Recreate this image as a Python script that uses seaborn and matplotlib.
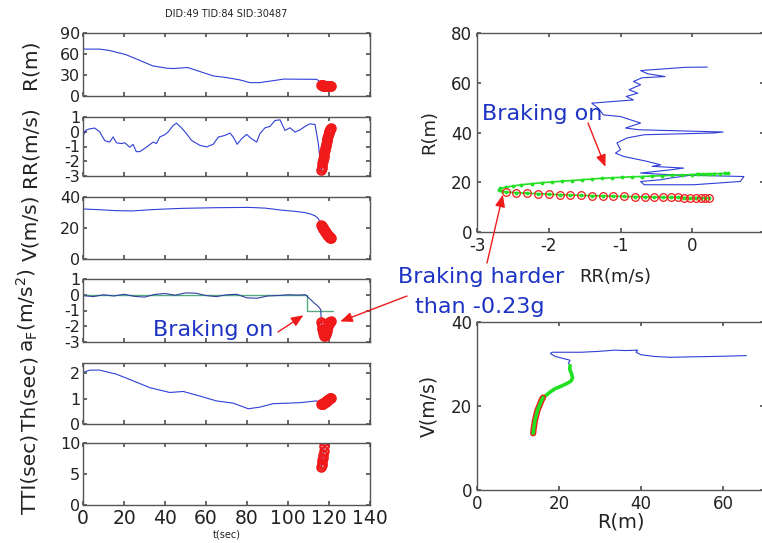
import numpy as np
import matplotlib
matplotlib.use("Agg")
import matplotlib.pyplot as plt
import seaborn as sns

# ---------------- data ----------------
# R(m) vs t(sec), blue line up to the hard-braking part
t_r = [0, 8, 13, 21, 28, 34, 41, 44, 51, 57, 63.5, 70, 76.5, 81.5, 86, 93, 98, 105, 114, 115.6]
r_t = [67, 67, 65, 59, 50.5, 43, 39.7, 39.2, 40.7, 35, 28.7, 26.3, 23, 19.1, 19.1, 22, 24.2, 24, 23.8, 20.5]

# RR(m/s) vs t(sec)
t_rr = [0, 1.3, 3.3, 5.7, 8.1, 10.6, 13, 14.7, 16.3, 18.7, 20.4, 22.8, 24.4, 26, 27.7,
        30.9, 34.2, 35.8, 37.5, 39.9, 41.5, 44, 45.6, 48, 50.5, 52.9, 57, 60.3, 63.5, 66,
        69.2, 71.7, 73.3, 75.2, 77.4, 79.8, 82.2, 84.7, 86.3, 88.8, 91.2, 93.6, 96.1, 98.5,
        101, 103.4, 105.9, 108.3, 110.7, 113.2, 114.8, 116.0]
rr_t = [-0.3, 0.1, 0.2, 0.25, 0.0, -0.6, -0.7, -0.35, -0.75, -0.8, -0.75, -1.05, -0.85, -1.35, -1.35,
        -1.05, -0.7, -0.8, -0.35, -0.2, -0.02, 0.43, 0.58, 0.27, -0.13, -0.58, -0.92, -1.03, -0.85, -0.36,
        -0.25, -0.09, -0.36, -0.85, -0.47, -0.18, -0.47, -0.7, -0.13, 0.27, 0.36, 0.76, 0.81, 0.09,
        0.27, -0.02, 0.13, 0.36, 0.54, 0.49, -0.8, -2.4]

# V(m/s) vs t(sec)
t_v = [0, 8, 16, 24, 33, 41, 49, 57, 65, 73, 81, 89, 97, 103, 108, 111, 113, 114.5, 115.5]
v_t = [32.3, 31.8, 31.2, 31.0, 31.8, 32.3, 32.7, 32.9, 33.1, 33.2, 33.3, 32.8, 31.5, 30.8, 30.0,
       29.0, 28.0, 26.5, 24.5]

# aF(m/s^2) vs t(sec), plus the braking flag (green step)
t_af = [0, 5, 10, 15, 20, 25, 30, 35, 40, 45, 50, 55, 60, 65, 70, 75, 80, 85, 90, 95, 100, 105,
        108.5, 111, 113, 114.5, 116]
af_t = [-0.05, -0.12, 0.0, -0.08, 0.03, -0.1, -0.15, 0.02, 0.08, -0.03, 0.12, 0.1, -0.05, -0.12,
        0.0, 0.03, -0.2, -0.22, -0.08, -0.05, 0.0, -0.02, 0.0, -0.3, -0.55, -0.7, -0.95]
t_flag = [0, 109.2, 121.8]
flag = [0, -1.0, -1.0]

# Th(sec) vs t(sec)
t_th = [0, 3.3, 8.1, 16.3, 24.4, 32.6, 42.3, 48.9, 57, 65, 73.3, 80.6, 86, 92.8, 100, 106, 114, 115.6]
th_t = [2.03, 2.12, 2.12, 1.96, 1.7, 1.43, 1.24, 1.28, 1.1, 0.91, 0.82, 0.6, 0.66, 0.8, 0.82, 0.84,
        0.91, 0.8]

# TTI(sec) vs t(sec), blue part just before the red points
t_tti = [115.6, 115.9, 116.2]
tti_t = [14.0, 9.0, 6.2]

# hard braking (red points), same times for every quantity
t_hard = [116.2, 116.4, 116.6, 116.8, 117.0, 117.2, 117.4, 117.6, 117.8, 118.0, 118.2, 118.4,
          118.6, 118.8, 119.0, 119.2, 119.4, 119.6, 119.8, 120.0, 120.2, 120.4, 120.6, 120.8]
r_hard = [16.1, 15.8, 15.6, 15.4, 15.2, 15.0, 14.85, 14.7, 14.6, 14.5, 14.4, 14.3, 14.2, 14.1,
          14.05, 14.0, 13.95, 13.9, 13.85, 13.8, 13.78, 13.75, 13.72, 13.7]
rr_hard = [-2.6, -2.45, -2.3, -2.15, -2.0, -1.85, -1.7, -1.55, -1.4, -1.25, -1.1, -0.95, -0.8,
           -0.66, -0.53, -0.41, -0.3, -0.2, -0.11, -0.03, 0.05, 0.12, 0.18, 0.23]
v_hard = [22.0, 21.5, 21.0, 20.5, 20.0, 19.6, 19.2, 18.8, 18.4, 18.0, 17.6, 17.2, 16.8, 16.4,
          16.0, 15.7, 15.4, 15.1, 14.8, 14.5, 14.2, 13.9, 13.7, 13.5]
af_hard = [-1.7, -1.85, -2.0, -2.15, -2.3, -2.4, -2.5, -2.55, -2.6, -2.6, -2.55, -2.5, -2.4, -2.3,
           -2.2, -2.1, -2.0, -1.9, -1.85, -1.8, -1.75, -1.7, -1.7, -1.65]
th_hard = [0.78, 0.78, 0.78, 0.79, 0.8, 0.81, 0.81, 0.82, 0.83, 0.85, 0.86, 0.87, 0.89, 0.9,
           0.92, 0.93, 0.94, 0.96, 0.98, 0.99, 1.0, 1.02, 1.03, 1.04]
tti_hard = [6.2, 6.45, 6.8, 7.2, 7.6, 8.1, 8.7, 9.5, 10.4]

# R vs RR phase plot: blue (before braking) and green (braking on)
ph_rr = [0.21, -0.1, -0.72, -0.62, -0.38, -0.7, -0.82, -0.72, -0.88, -0.76, -0.92, -0.82, -1.4,
         -1.3, -1.24, -1.0, -0.72, -0.93, -0.74, 0.43, 0.3, -0.67, -0.91, -1.05, -1.0, -1.07, -0.96,
         -0.63, -0.44, -0.56, -0.12, -0.3, -0.72, -0.3, 0.72, 0.67, 0.02, -0.67, -0.72, -0.44, -0.3,
         0.12]
ph_r = [66.3, 66.2, 64.9, 63.6, 62.5, 62.0, 60.5, 59.2, 57.2, 55.8, 54.5, 53.1, 51.8, 49.5, 47.1,
        46.4, 43.8, 41.8, 41.1, 40.2, 39.8, 39.1, 37.8, 35.8, 33.1, 31.7, 30.4, 28.4, 27.0, 26.4,
        25.7, 25.0, 23.7, 23.0, 22.3, 20.3, 19.0, 19.0, 20.3, 21.0, 21.7, 23.4]
on_rr = [0.5, 0.45, 0.38, 0.3, 0.25, 0.2, 0.15, 0.1, 0.07, 0.0, -0.14, -0.28, -0.42, -0.56, -0.7,
         -0.84, -0.98, -1.12, -1.26, -1.4, -1.54, -1.68, -1.82, -1.96, -2.1, -2.24, -2.38, -2.5,
         -2.6, -2.68, -2.7, -2.65]
on_r = [23.6, 23.6, 23.5, 23.5, 23.4, 23.4, 23.3, 23.3, 23.2, 23.1, 22.9, 22.8, 22.6, 22.5, 22.3,
        22.2, 22.0, 21.8, 21.6, 21.3, 21.0, 20.7, 20.4, 20.1, 19.8, 19.4, 19.0, 18.5, 18.0, 17.5,
        17.0, 16.5]

# V vs R plot: blue (before braking) and green (braking on)
vr_r = [65.7, 58, 52, 47, 43.2, 40.0, 38.8, 39.2, 36, 33.6, 29.6, 25.5, 21.5, 18.3, 17.9, 19.1,
        21.5, 22.7, 22.3, 22.7]
vr_v = [32.0, 31.8, 31.7, 31.6, 31.8, 32.2, 32.8, 33.3, 33.2, 33.3, 33.0, 32.8, 32.8, 32.8, 32.5,
        31.8, 31.2, 30.9, 30.2, 29.6]
vr_on_r = [22.7, 22.6, 23.0, 23.3, 23.0, 22.0, 20.5, 19.0, 17.8, 16.8, 16.1]
vr_on_v = [29.6, 28.8, 27.8, 26.8, 26.0, 25.4, 24.7, 24.1, 23.3, 22.5, 22.0]

# ---------------- style ----------------
sns.set_theme(style="ticks")
plt.rcParams.update({
    "font.family": ["DejaVu Sans"],
    "axes.unicode_minus": False,
    "axes.edgecolor": "#555555",
    "axes.linewidth": 1.0,
    "xtick.direction": "in",
    "ytick.direction": "in",
    "xtick.top": True,
    "ytick.right": True,
    "xtick.color": "#555555",
    "ytick.color": "#555555",
    "xtick.labelcolor": "#222222",
    "ytick.labelcolor": "#222222",
    "xtick.major.size": 3,
    "ytick.major.size": 3,
    "axes.labelcolor": "#222222",
})

BLUE = "#2f3fd8"
RED = "#f01a1a"
GREEN = "#22e022"
ANN = "#1c33c4"

W, H = 762, 543
fig = plt.figure(figsize=(W / 100, H / 100), dpi=100)


def px_axes(left, top, right, bottom):
    return fig.add_axes([left / W, 1 - bottom / H, (right - left) / W, (bottom - top) / H])


def line(ax, x, y, **kw):
    sns.lineplot(x=x, y=y, ax=ax, sort=False, estimator=None, **kw)


# ---------------- left column: time series ----------------
rows = [(33, 96), (117, 176), (197, 259), (279, 342), (363, 424), (443, 505)]
left_axes = [px_axes(83, top, 370, bot) for top, bot in rows]
ax_r, ax_rr, ax_v, ax_af, ax_th, ax_tti = left_axes

line(ax_r, t_r + t_hard, r_t + r_hard, color=BLUE, linewidth=0.8)
ax_r.plot(t_hard, r_hard, "o", ms=6, mfc="none", mec=RED, mew=1.6)
ax_r.set(ylim=(0, 90), yticks=[0, 30, 60, 90], ylabel="R(m)")

line(ax_rr, t_rr + t_hard, rr_t + rr_hard, color=BLUE, linewidth=0.8)
ax_rr.plot(t_hard, rr_hard, "o", ms=6, mfc="none", mec=RED, mew=1.6)
ax_rr.set(ylim=(-3, 1), yticks=[-3, -2, -1, 0, 1], ylabel="RR(m/s)")

line(ax_v, t_v + t_hard, v_t + v_hard, color=BLUE, linewidth=0.8)
ax_v.plot(t_hard, v_hard, "o", ms=6, mfc="none", mec=RED, mew=1.6)
ax_v.set(ylim=(0, 40), yticks=[0, 20, 40], ylabel="V(m/s)")

line(ax_af, t_flag, flag, color="#55aa80", linewidth=1.0, drawstyle="steps-post")
line(ax_af, t_af + t_hard, af_t + af_hard, color="#3040a0", linewidth=0.8)
ax_af.plot(t_hard, af_hard, "o", ms=6, mfc="none", mec=RED, mew=1.6)
ax_af.set(ylim=(-3, 1), yticks=[-3, -2, -1, 0, 1], ylabel="a$_\\mathregular{F}$(m/s$^\\mathregular{2}$)")

line(ax_th, t_th + t_hard, th_t + th_hard, color=BLUE, linewidth=0.8)
ax_th.plot(t_hard, th_hard, "o", ms=6, mfc="none", mec=RED, mew=1.6)
ax_th.set(ylim=(0, 2.4), yticks=[0, 1, 2], ylabel="Th(sec)")

line(ax_tti, t_tti + t_hard[1:len(tti_hard)], tti_t + tti_hard[1:], color=BLUE, linewidth=0.8)
ax_tti.plot(t_hard[:len(tti_hard)], tti_hard, "o", ms=6, mfc="none", mec=RED, mew=1.6)
ax_tti.set(ylim=(0, 10), yticks=[0, 5, 10], ylabel="TTI(sec)")

for ax in left_axes:
    ax.set_xlim(0, 140)
    ax.set_xticks(range(0, 141, 20))
    ax.tick_params(axis="y", labelsize=11.5, pad=2)
    ax.yaxis.label.set_size(14.5)
    ax.yaxis.set_label_coords(-0.15, 0.5)
    ax.set_facecolor("none")
    if ax is not ax_tti:
        ax.tick_params(axis="x", labelbottom=False)
ax_tti.tick_params(axis="x", labelsize=13.5, pad=3)
ax_tti.set_xlabel("t(sec)", fontsize=7, labelpad=1)
fig.text(226 / W, 1 - 14 / H, "DID:49 TID:84 SID:30487", fontsize=7, ha="center", va="center",
         color="#222222")

# ---------------- right top: R vs RR ----------------
ax_ph = px_axes(477, 33, 764, 232)
line(ax_ph, ph_rr, ph_r, color=BLUE, linewidth=0.8)
line(ax_ph, on_rr + rr_hard, on_r + r_hard, color=GREEN, linewidth=1.2, marker=".", ms=4,
     mec=GREEN, mfc=GREEN)
ax_ph.plot(rr_hard, r_hard, "o", ms=5.5, mfc="none", mec=RED, mew=0.9)
ax_ph.set(xlim=(-3, 1), ylim=(0, 80), yticks=[0, 20, 40, 60, 80])
ax_ph.set_xticks([-3, -2, -1, 0, 1], ["-3", "-2", "-1", "0", ""])
ax_ph.set_xlabel("RR(m/s)", fontsize=13)
ax_ph.xaxis.set_label_coords(0.48, -0.18)
ax_ph.set_ylabel("R(m)", fontsize=13)
ax_ph.yaxis.set_label_coords(-0.135, 0.5)
ax_ph.tick_params(labelsize=12)
ax_ph.set_facecolor("none")

# ---------------- right bottom: V vs R ----------------
ax_vr = px_axes(477, 322, 764, 490)
line(ax_vr, vr_r, vr_v, color=BLUE, linewidth=0.8)
line(ax_vr, vr_on_r, vr_on_v, color=GREEN, linewidth=2.6)
line(ax_vr, r_hard, v_hard, color=RED, linewidth=4.5)
line(ax_vr, r_hard, v_hard, color=GREEN, linewidth=2.6)
ax_vr.set(xlim=(0, 70), ylim=(0, 40), xticks=[0, 20, 40, 60], yticks=[0, 20, 40])
ax_vr.set_xlabel("R(m)", fontsize=14, labelpad=0)
ax_vr.set_ylabel("V(m/s)", fontsize=13.5)
ax_vr.yaxis.set_label_coords(-0.135, 0.5)
ax_vr.tick_params(labelsize=12)
ax_vr.set_facecolor("none")

# ---------------- annotations ----------------
def ff(x, y):
    return (x / W, 1 - y / H)


arrow = dict(arrowstyle="-|>,head_length=0.6,head_width=0.25", color=RED, lw=1.0,
             shrinkA=0, shrinkB=0)

ax_ph.text(-2.93, 45, "Braking on", color=ANN, fontsize=16, va="baseline")
ax_ph.annotate("", xy=(-1.21, 26.2), xytext=ff(588, 123), textcoords="figure fraction",
               arrowprops=arrow)
ax_ph.annotate("", xy=(-2.64, 15.0), xytext=ff(487, 263), textcoords="figure fraction",
               arrowprops=arrow, annotation_clip=False)
fig.text(*ff(481, 283), "Braking harder", color=ANN, fontsize=16, ha="center", va="baseline")
fig.text(*ff(480, 313), "than -0.23g", color=ANN, fontsize=16, ha="center", va="baseline")

ax_af.annotate("", xy=(125.5, -1.7), xytext=ff(407, 296), textcoords="figure fraction",
               arrowprops=arrow, annotation_clip=False)
ax_af.annotate("", xy=(107.5, -1.3), xytext=ff(278, 332), textcoords="figure fraction",
               arrowprops=arrow)
fig.text(*ff(153, 336), "Braking on", color=ANN, fontsize=16, ha="left", va="baseline")

fig.savefig("out.png", dpi=100)
